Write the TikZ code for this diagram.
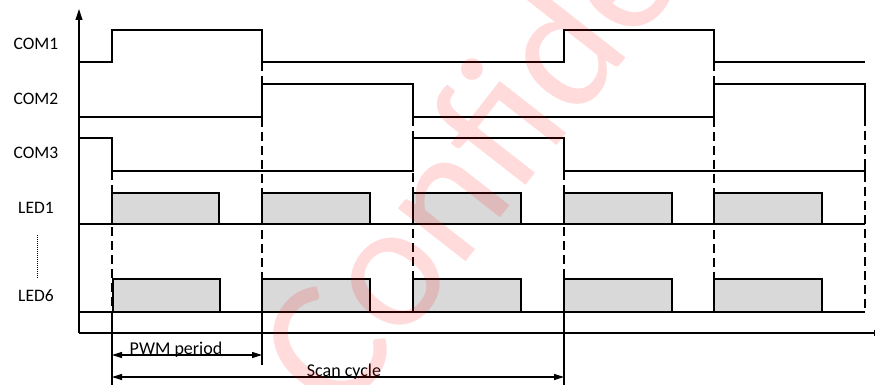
\documentclass[tikz,border=0pt]{standalone}
\usepackage{fontspec}
\setmainfont{Carlito}
\usetikzlibrary{arrows.meta}

\begin{document}
\begin{tikzpicture}[x=1pt,y=-1pt,
    signal/.style ={line width=1.1pt},
    pulse/.style ={line width=1.1pt, fill=black!15},
    marker/.style ={line width=1.1pt, dash pattern=on 9pt off 5pt},
    label/.style ={anchor=base, inner sep=0pt, font=\fontsize{17.5}{20}\selectfont},
    span/.style ={line width=1.1pt, {Triangle[length=10pt,width=6pt]}-{Triangle[length=10pt,width=6pt]}},
    watermark/.style ={anchor=center, rotate=52, inner sep=0pt, text=red, text opacity=0.14,
      font=\fontsize{180}{180}\selectfont}]
   \useasboundingbox (0,0) rectangle (876,385);
   % axes
   \coordinate (origin) at (79,333);
   \coordinate (ytop) at (79,9);
   \coordinate (xend) at (875,333);
   \draw[signal, -{Triangle[length=11pt,width=7pt]}] (origin) to (ytop);
   \draw[signal, -{Bar[width=6pt]}] (origin) to (xend);
   % row labels
   \node[label] (com1) at (36,50)  {COM1};
   \node[label] (com2) at (36,105) {COM2};
   \node[label] (com3) at (36,159) {COM3};
   \node[label] (led1) at (36,213) {LED1};
   \node[label] (led6) at (36,301) {LED6};
   \draw[line width=0.8pt, dash pattern=on 1pt off 1pt] (37,235) to (37,279);
   % scan lines
   \draw[marker] (112,171) to (112,312);
   \draw[marker] (262,62) to (262,312);
   \draw[marker] (413,117) to (413,312);
   \draw[marker] (564,171) to (564,312);
   \draw[marker] (714,62) to (714,312);
   \draw[marker] (865,117) to (865,312);
   \draw[signal] (112,312) to (112,385);
   \draw[signal] (262,312) to (262,365);
   \draw[signal] (564,312) to (564,385);
   % common lines
   \draw[signal] (79,62) -- (112,62) -- (112,30) -- (262,30) -- (262,62) -- (564,62)
      -- (564,30) -- (714,30) -- (714,62) -- (865,62);
   \draw[signal] (79,117) -- (262,117) -- (262,84) -- (413,84) -- (413,117) -- (714,117)
      -- (714,84) -- (865,84) -- (865,117);
   \draw[signal] (79,138) -- (112,138) -- (112,171) -- (413,171) -- (413,138) -- (564,138)
      -- (564,171) -- (865,171);
   \draw[signal] (865,167) to (865,175);
   % LED pulses
   \draw[pulse] (112,193) rectangle (219,224);
   \draw[pulse] (262,193) rectangle (370,224);
   \draw[pulse] (413,193) rectangle (521,224);
   \draw[pulse] (564,193) rectangle (672,224);
   \draw[pulse] (714,193) rectangle (822,224);
   \draw[signal] (79,224) to (865,224);
   \draw[pulse] (113,279) rectangle (220,312);
   \draw[pulse] (262,279) rectangle (370,312);
   \draw[pulse] (413,279) rectangle (521,312);
   \draw[pulse] (564,279) rectangle (672,312);
   \draw[pulse] (714,279) rectangle (822,312);
   \draw[signal] (79,312) to (865,312);
   % periods
   \coordinate (pwmL) at (112,355);
   \coordinate (pwmR) at (262,355);
   \coordinate (scanL) at (112,377);
   \coordinate (scanR) at (564,377);
   \draw[span] (pwmL) to (pwmR);
   \draw[span] (scanL) to (scanR);
   \node[label, font=\fontsize{18}{20}\selectfont] (pwm) at (176,354) {PWM period};
   \node[label, font=\fontsize{18}{20}\selectfont] (scan) at (344,376) {Scan cycle};
   % watermark
   \begin{scope}
   \clip (0,0) rectangle (876,385);
   \node[watermark] (mark) at (565,35) {Confidential};
   \end{scope}
 \end{tikzpicture}
\end{document}
